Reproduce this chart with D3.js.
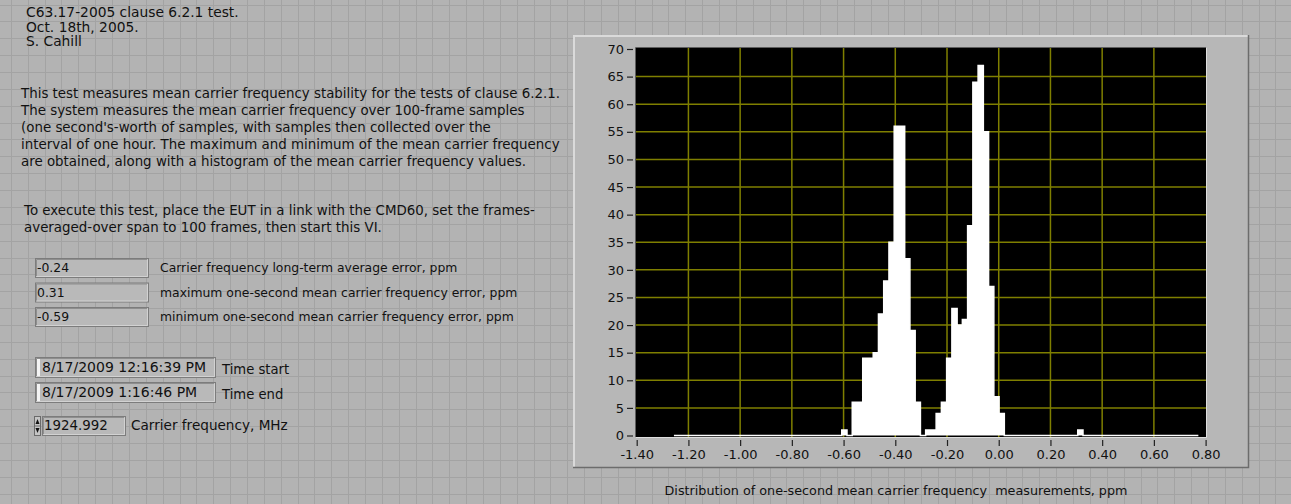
<!DOCTYPE html>
<html><head><meta charset="utf-8">
<script src="https://cdn.jsdelivr.net/npm/d3@7"></script>
<style>
html,body{margin:0;padding:0;background:#b3b3b3;overflow:hidden;}
svg{display:block;}
text{font-family:"DejaVu Sans",sans-serif;fill:#111;}
</style>
</head><body>
<svg id="c" width="1291" height="504"></svg>
<script>
// ---------- data ----------
const binStart = -1.256;           // ppm, lower edge of first histogram bin
const binWidth = 0.02028;          // ppm per bin
const counts = [
  0,0,0,0,0,0,0,0,0,0, 0,0,0,0,0,0,0,0,0,0,
  0,0,0,0,0,0,0,0,0,0, 0,0,1,0,6,6,14,14,15,22,
  28,35,56,56,32,19,6,0,1,1, 4,6,14,23,20,21,38,64,67,55,
  27,7,4,0,0,0,0,0,0,0, 0,0,0,0,0,0,0,1,0,0,
  0,0,0,0,0,0,0,0,0,0, 0,0,0,0,0,0,0,0,0,0
];
const xTicks = [-1.40,-1.20,-1.00,-0.80,-0.60,-0.40,-0.20,0.00,0.20,0.40,0.60,0.80];
const yTicks = [0,5,10,15,20,25,30,35,40,45,50,55,60,65,70];
const xLabel = "Distribution of one-second mean carrier frequency  measurements, ppm";

const headerLines = ["C63.17-2005 clause 6.2.1 test.","Oct. 18th, 2005.","S. Cahill"];
const descLines = [
  "This test measures mean carrier frequency stability for the tests of clause 6.2.1.",
  "The system measures the mean carrier frequency over 100-frame samples",
  "(one second's-worth of samples, with samples then collected over the",
  "interval of one hour. The maximum and minimum of the mean carrier frequency",
  "are obtained, along with a histogram of the mean carrier frequency values."
];
const instrLines = [
  "To execute this test, place the EUT in a link with the CMD60, set the frames-",
  "averaged-over span to 100 frames, then start this VI."
];
const indicatorValues = ["-0.24","0.31","-0.59"];
const indicatorLabels = [
  "Carrier frequency long-term average error, ppm",
  "maximum one-second mean carrier frequency error, ppm",
  "minimum one-second mean carrier frequency error, ppm"
];
const timeValues = ["8/17/2009 12:16:39 PM","8/17/2009 1:16:46 PM"];
const timeLabels = ["Time start","Time end"];
const carrierValue = "1924.992";
const carrierLabel = "Carrier frequency, MHz";

// ---------- drawing ----------
const svg = d3.select("#c");
const W = 1291, H = 504;

// panel grid background
svg.append("rect").attr("width",W).attr("height",H).attr("fill","#b3b3b3");
const gs = 16.86;
const bg = svg.append("g").attr("stroke","#a3a3a3").attr("stroke-width",1);
d3.range(10.9, W, gs).forEach(x=>{
  const xx = Math.round(x)+0.5;
  bg.append("line").attr("x1",xx).attr("x2",xx).attr("y1",0).attr("y2",H);
});
d3.range(4.6, H, gs).forEach(y=>{
  const yy = Math.round(y)+0.5;
  bg.append("line").attr("y1",yy).attr("y2",yy).attr("x1",0).attr("x2",W);
});

// left texts
const fsBig = 13.4, fs = 12.4;
const tg = svg.append("g").attr("font-size",fsBig);
headerLines.forEach((t,i)=>tg.append("text").attr("x",26).attr("y",17+i*14.5).attr("font-size",13.8).text(t));
descLines.forEach((t,i)=>tg.append("text").attr("x",21).attr("y",98+i*17).text(t));
instrLines.forEach((t,i)=>tg.append("text").attr("x",24).attr("y",215+i*17).text(t));

function sunkenBox(g,x,y,w,h){
  g.append("rect").attr("x",x+0.5).attr("y",y+0.5).attr("width",w).attr("height",h)
    .attr("fill","#b9b9b9").attr("stroke","#7c7c7c");
  g.append("path").attr("d",`M${x+1.5},${y+h-0.5}H${x+w-0.5}V${y+1.5}`)
    .attr("fill","none").attr("stroke","#d2d2d2");
  g.append("path").attr("d",`M${x+1.5},${y+h-1}V${y+1.5}H${x+w-1}`)
    .attr("fill","none").attr("stroke","#8e8e8e");
}

const ig = svg.append("g").attr("font-size",fs);
indicatorValues.forEach((v,i)=>{
  const y = 258 + i*24.5;
  sunkenBox(ig,35,y,113,19);
  ig.append("text").attr("x",37).attr("y",y+14).text(v);
  ig.append("text").attr("x",160).attr("y",y+14).text(indicatorLabels[i]);
});
timeValues.forEach((v,i)=>{
  const y = 357 + i*25;
  sunkenBox(ig,35,y,180,20);
  ig.append("rect").attr("x",37).attr("y",y+2).attr("width",3).attr("height",17).attr("fill","#f4f4f4");
  ig.append("text").attr("x",42).attr("y",y+15).attr("font-size",14).text(v);
  ig.append("text").attr("x",222).attr("y",y+17).attr("font-size",13.2).text(timeLabels[i]);
});
// numeric control
{
  const y = 416;
  sunkenBox(ig,42,y,83,19);
  ig.append("rect").attr("x",34.5).attr("y",y+0.5).attr("width",6).attr("height",19)
    .attr("fill","#c4c4c4").attr("stroke","#6a6a6a");
  ig.append("line").attr("x1",34.5).attr("x2",40.5).attr("y1",y+10).attr("y2",y+10).attr("stroke","#6a6a6a");
  ig.append("path").attr("d",`M35.5,${y+8}L37.5,${y+3}L39.5,${y+8}Z`).attr("fill","#111");
  ig.append("path").attr("d",`M35.5,${y+12}L37.5,${y+17}L39.5,${y+12}Z`).attr("fill","#111");
  ig.append("text").attr("x",44).attr("y",y+14).attr("font-size",13.4).text(carrierValue);
  ig.append("text").attr("x",131).attr("y",y+14).attr("font-size",13.6).text(carrierLabel);
}

// chart frame
const fx0 = 573, fy0 = 35, fx1 = 1249, fy1 = 468;
svg.append("rect").attr("x",fx0).attr("y",fy0).attr("width",fx1-fx0).attr("height",fy1-fy0).attr("fill","#b7b7b7");
svg.append("path").attr("d",`M${fx0+1},${fy1}V${fy0+1}H${fx1}`).attr("fill","none").attr("stroke","#dadada").attr("stroke-width",2);
svg.append("path").attr("d",`M${fx0},${fy1-0.5}H${fx1-0.5}V${fy0}`).attr("fill","none").attr("stroke","#6c6c6c").attr("stroke-width",1.5);

// plot area
const px0 = 636, px1 = 1206, py0 = 48, py1 = 437;
const x = d3.scaleLinear().domain([-1.40,0.80]).range([636.7,1205.6]);
const y = d3.scaleLinear().domain([0,70]).range([435.5,49]);

svg.append("rect").attr("x",px0).attr("y",py0).attr("width",px1-px0).attr("height",py1-py0).attr("fill","#000");

// grid
const grid = svg.append("g").attr("stroke","#7f7f00").attr("stroke-width",1.5);
xTicks.slice(1,-1).forEach(t=>{
  grid.append("line").attr("x1",x(t)).attr("x2",x(t)).attr("y1",py0).attr("y2",py1);
});
yTicks.slice(1,-1).forEach(t=>{
  grid.append("line").attr("y1",y(t)).attr("y2",y(t)).attr("x1",px0).attr("x2",px1);
});

// histogram (step plot filled to zero)
const pts = counts.map((c,i)=>({e:binStart+i*binWidth, c}));
pts.push({e:binStart+counts.length*binWidth, c:counts[counts.length-1]});
svg.append("path").datum(pts)
  .attr("d", d3.area().curve(d3.curveStepAfter).x(d=>x(d.e)).y0(y(0)).y1(d=>y(d.c)))
  .attr("fill","#fff");
svg.append("path").datum(pts)
  .attr("d", d3.line().curve(d3.curveStepAfter).x(d=>x(d.e)).y(d=>y(d.c)))
  .attr("fill","none").attr("stroke","#fff").attr("stroke-width",1.5);

// plot border (sunken)
svg.append("path").attr("d",`M${px0-0.5},${py1}V${py0-0.5}H${px1}`).attr("fill","none").attr("stroke","#5e5e5e");
svg.append("path").attr("d",`M${px0},${py1+0.5}H${px1+0.5}V${py0}`).attr("fill","none").attr("stroke","#dedede");

// axes
const xAxis = d3.axisBottom(x).tickValues(xTicks).tickFormat(d3.format(".2f")).tickSize(6).tickPadding(4);
const gx = svg.append("g").attr("transform",`translate(0,${py1+3})`).call(xAxis);
gx.select(".domain").remove();
gx.selectAll(".tick line").attr("stroke","#222").attr("stroke-width",1.2);
gx.selectAll(".tick text").attr("font-size",13).attr("fill","#111")
  .attr("font-family","DejaVu Sans").text(d=>d3.format(".2f")(d).replace("−","-"));

const yAxis = d3.axisLeft(y).tickValues(yTicks).tickSize(6).tickPadding(3);
const gy = svg.append("g").attr("transform",`translate(${px0-3},0)`).call(yAxis);
gy.select(".domain").remove();
gy.selectAll(".tick line").attr("stroke","#222").attr("stroke-width",1.2);
gy.selectAll(".tick text").attr("font-size",13).attr("fill","#111").attr("font-family","DejaVu Sans");

// caption
svg.append("text").attr("x",896).attr("y",495).attr("text-anchor","middle")
  .attr("font-size",12.75).attr("xml:space","preserve").style("white-space","pre").text(xLabel);
</script>
</body></html>
